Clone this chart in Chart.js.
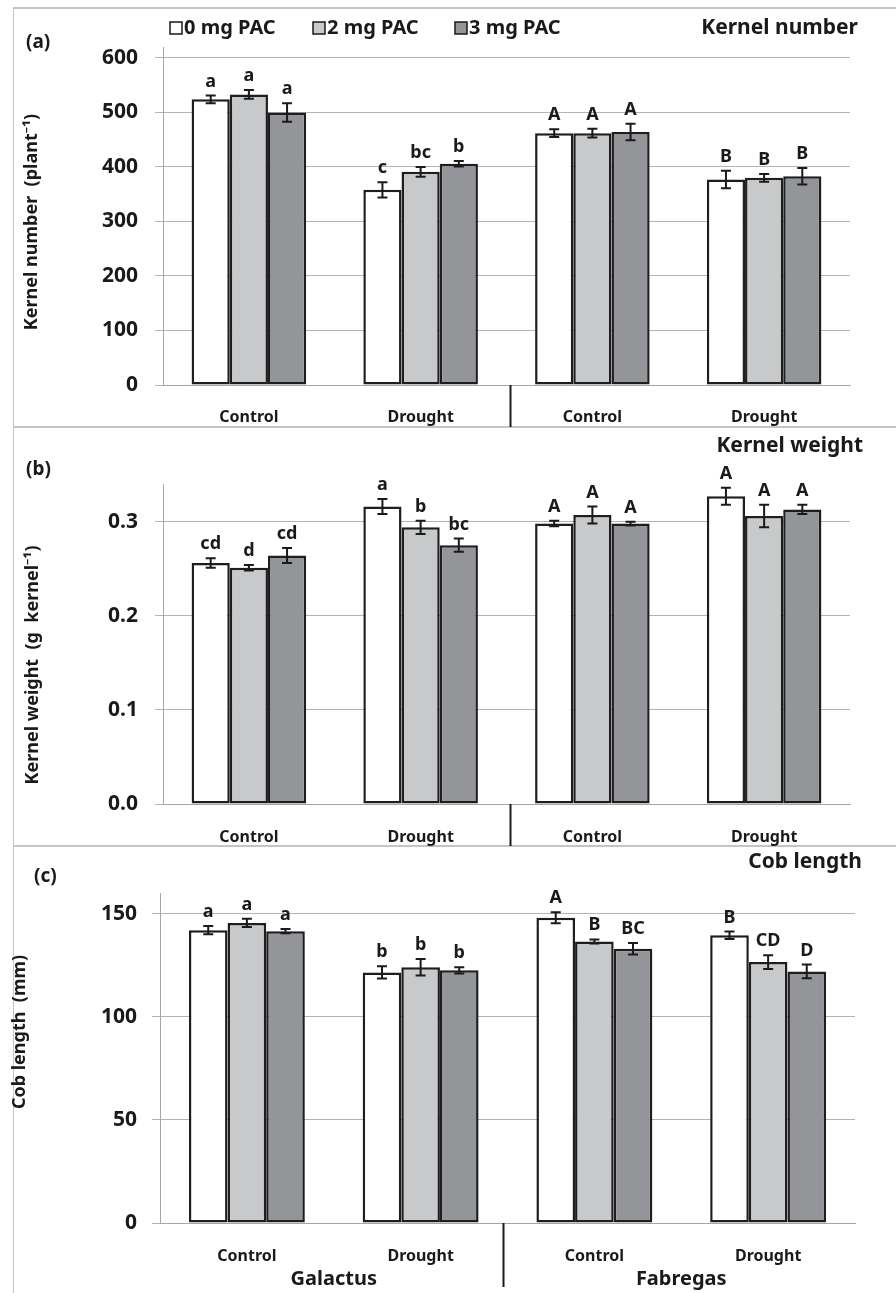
<!DOCTYPE html>
<html><head><meta charset="utf-8">
<script src="https://cdn.jsdelivr.net/npm/chart.js@4.4.1/dist/chart.umd.min.js"></script>
<style>
html,body{margin:0;padding:0;background:#fff;}
#wrap{position:relative;width:896px;height:1293px;overflow:hidden;background:#fff;}
canvas{position:absolute;left:0;}
.ln{position:absolute;background:#c4c4c4;}
</style></head><body>
<div id="wrap">
<div class="ln" style="left:13px;top:7px;width:883px;height:2px"></div>
<div class="ln" style="left:13px;top:426px;width:883px;height:2px"></div>
<div class="ln" style="left:13px;top:845px;width:883px;height:2px"></div>
<div class="ln" style="left:13px;top:7px;width:1px;height:1286px"></div>
<canvas id="ca" width="896" height="420" style="top:7px"></canvas>
<canvas id="cb" width="896" height="419" style="top:427px"></canvas>
<canvas id="cc" width="896" height="447" style="top:846px"></canvas>
</div>
<script>
// ---- data ----
const categories = ['Control', 'Drought', 'Control', 'Drought'];
const cultivars = ['Galactus', 'Fabregas'];
const seriesNames = ['0 mg PAC', '2 mg PAC', '3 mg PAC'];

// (a) Kernel number (plant-1)
const kernelNumber0 = [524, 358, 462, 377];
const kernelNumber2 = [533, 391, 462, 380];
const kernelNumber3 = [500, 406, 464, 383];
const kernelNumberErr0 = [7, 14, 7, 16];
const kernelNumberErr2 = [8, 9, 8, 7];
const kernelNumberErr3 = [17, 5, 15, 15];
const kernelNumberLetters0 = ['a', 'c', 'A', 'B'];
const kernelNumberLetters2 = ['a', 'bc', 'A', 'B'];
const kernelNumberLetters3 = ['a', 'b', 'A', 'B'];
const kernelNumberTicks = [0, 100, 200, 300, 400, 500, 600];

// (b) Kernel weight (g kernel-1)
const kernelWeight0 = [0.256, 0.316, 0.298, 0.327];
const kernelWeight2 = [0.251, 0.294, 0.307, 0.306];
const kernelWeight3 = [0.264, 0.275, 0.298, 0.313];
const kernelWeightErr0 = [0.005, 0.008, 0.003, 0.009];
const kernelWeightErr2 = [0.003, 0.007, 0.009, 0.012];
const kernelWeightErr3 = [0.008, 0.007, 0.002, 0.005];
const kernelWeightLetters0 = ['cd', 'a', 'A', 'A'];
const kernelWeightLetters2 = ['d', 'b', 'A', 'A'];
const kernelWeightLetters3 = ['cd', 'bc', 'A', 'A'];
const kernelWeightTicks = [0.0, 0.1, 0.2, 0.3];

// (c) Cob length (mm)
const cobLength0 = [142, 121.5, 148, 139.5];
const cobLength2 = [145.5, 124, 136.5, 126.5];
const cobLength3 = [141.5, 122.5, 133, 122];
const cobLengthErr0 = [2, 3, 2.7, 1.8];
const cobLengthErr2 = [2, 4, 1, 3.3];
const cobLengthErr3 = [1, 1.5, 2.8, 3.3];
const cobLengthLetters0 = ['a', 'b', 'A', 'B'];
const cobLengthLetters2 = ['a', 'b', 'B', 'CD'];
const cobLengthLetters3 = ['a', 'b', 'BC', 'D'];
const cobLengthTicks = [0, 50, 100, 150];

// ---- styling ----
const FONT = "'Noto Sans', 'DejaVu Sans', sans-serif";
const fills = ['#ffffff', '#c8c9cb', '#939598'];
const INK = '#1a1a1a';

function makePanel(id, p) {
  const decor = {
    id: 'decor_' + id,
    afterDatasetsDraw(chart) {
      const ctx = chart.ctx, ys = chart.scales.y;
      ctx.save();
      chart.data.datasets.forEach((ds, i) => {
        const meta = chart.getDatasetMeta(i);
        meta.data.forEach((el, j) => {
          const v = ds.data[j], e = ds.errors[j];
          const yt = ys.getPixelForValue(v + e), yb = ys.getPixelForValue(v - e);
          ctx.strokeStyle = INK; ctx.lineWidth = 2;
          ctx.beginPath();
          ctx.moveTo(el.x, yt); ctx.lineTo(el.x, yb);
          ctx.moveTo(el.x - 5, yt); ctx.lineTo(el.x + 5, yt);
          ctx.moveTo(el.x - 5, yb); ctx.lineTo(el.x + 5, yb);
          ctx.stroke();
          ctx.fillStyle = INK;
          ctx.font = 'bold 18px ' + FONT;
          ctx.textAlign = 'center'; ctx.textBaseline = 'alphabetic';
          ctx.fillText(ds.letters[j], el.x, yt - 9);
        });
      });
      ctx.restore();
    },
    afterDraw(chart) {
      const ctx = chart.ctx, xs = chart.scales.x, ca = chart.chartArea;
      ctx.save();
      // separator between cultivars
      const sx = (xs.getPixelForValue(1) + xs.getPixelForValue(2)) / 2 + p.sepOffset;
      ctx.strokeStyle = INK; ctx.lineWidth = 2;
      ctx.beginPath(); ctx.moveTo(sx, ca.bottom); ctx.lineTo(sx, p.sepEnd); ctx.stroke();
      ctx.fillStyle = INK;
      // panel tag
      ctx.font = 'bold 19px ' + FONT; ctx.textAlign = 'left'; ctx.textBaseline = 'middle';
      ctx.fillText(p.tag, p.tagX, p.tagY);
      // panel title
      ctx.font = 'bold 21px ' + FONT; ctx.textAlign = 'right';
      ctx.fillText(p.title, p.titleX, p.titleY);
      // y title
      ctx.save();
      ctx.translate(p.yTitleX, p.yTitleY); ctx.rotate(-Math.PI / 2);
      ctx.font = 'bold 18px ' + FONT; ctx.textAlign = 'center'; ctx.textBaseline = 'middle';
      ctx.fillText(p.yTitle, 0, 0);
      ctx.restore();
      // legend
      if (p.legend) {
        ctx.font = 'bold 20px ' + FONT; ctx.textAlign = 'left'; ctx.textBaseline = 'middle';
        p.legend.forEach((lx, i) => {
          ctx.fillStyle = fills[i];
          ctx.fillRect(lx, p.legendY - 6, 12, 12);
          ctx.strokeStyle = INK; ctx.lineWidth = 1.5;
          ctx.strokeRect(lx, p.legendY - 6, 12, 12);
          ctx.fillStyle = INK;
          ctx.fillText(seriesNames[i], lx + 14, p.legendY);
        });
      }
      // cultivar labels
      if (p.groups) {
        ctx.font = 'bold 20px ' + FONT; ctx.textAlign = 'center'; ctx.textBaseline = 'middle';
        cultivars.forEach((c, g) => {
          const gx = (xs.getPixelForValue(2 * g) + xs.getPixelForValue(2 * g + 1)) / 2;
          ctx.fillText(c, gx, p.groupY);
        });
      }
      ctx.restore();
    }
  };
  const ticksWanted = p.ticks;
  return new Chart(document.getElementById(id), {
    type: 'bar',
    data: {
      labels: categories,
      datasets: seriesNames.map((n, i) => ({
        label: n, data: p.values[i], errors: p.errors[i], letters: p.letters[i],
        backgroundColor: fills[i], borderColor: '#1e1e1e', borderWidth: 2.5,
        borderSkipped: false, categoryPercentage: 0.667, barPercentage: 1.0
      }))
    },
    options: {
      responsive: false, animation: false, events: [],
      layout: { padding: { top: p.top, right: 896 - p.right, left: 0, bottom: 0 } },
      plugins: { legend: { display: false }, tooltip: { enabled: false } },
      scales: {
        x: {
          grid: { display: false },
          border: { display: true, color: '#a6a6a6', width: 1 },
          ticks: { font: { family: FONT, size: 16, weight: 'bold' }, color: INK, padding: p.xPad, maxRotation: 0, autoSkip: false },
          afterFit(s) { s.height = p.height - p.bottom; }
        },
        y: {
          min: 0, max: p.yMax,
          grid: { color: '#b4b4b4', lineWidth: 1, tickLength: 8, drawTicks: true },
          border: { display: true, color: '#a6a6a6', width: 1 },
          ticks: {
            stepSize: p.step, includeBounds: false,
            font: { family: FONT, size: 21, weight: 'bold' }, color: INK, padding: p.tickPad,
            callback: v => v.toFixed(p.dec)
          },
          afterBuildTicks(s) {
            s.ticks = ticksWanted.map(v => ({ value: v }));
          },
          afterFit(s) { s.width = p.left; }
        }
      }
    },
    plugins: [decor]
  });
}

makePanel('ca', {
  values: [kernelNumber0, kernelNumber2, kernelNumber3],
  errors: [kernelNumberErr0, kernelNumberErr2, kernelNumberErr3],
  letters: [kernelNumberLetters0, kernelNumberLetters2, kernelNumberLetters3],
  ticks: kernelNumberTicks, yMax: 620, step: 100, dec: 0,
  top: 40, bottom: 378, left: 163, right: 850, height: 420,
  tickPad: 17, xPad: 15, sepOffset: 4, sepEnd: 420,
  tag: '(a)', tagX: 26, tagY: 36,
  title: 'Kernel number', titleX: 858, titleY: 21,
  yTitle: 'Kernel number  (plant\u207B\u00B9)', yTitleX: 32, yTitleY: 215,
  legend: [170, 313, 455], legendY: 21
});
makePanel('cb', {
  values: [kernelWeight0, kernelWeight2, kernelWeight3],
  errors: [kernelWeightErr0, kernelWeightErr2, kernelWeightErr3],
  letters: [kernelWeightLetters0, kernelWeightLetters2, kernelWeightLetters3],
  ticks: kernelWeightTicks, yMax: 0.34, step: 0.1, dec: 1,
  top: 57, bottom: 377, left: 163, right: 850, height: 419,
  tickPad: 17, xPad: 16, sepOffset: 4, sepEnd: 419,
  tag: '(b)', tagX: 26, tagY: 43,
  title: 'Kernel weight', titleX: 863, titleY: 19,
  yTitle: 'Kernel weight  (g  kernel\u207B\u00B9)', yTitleX: 33, yTitleY: 238
});
makePanel('cc', {
  values: [cobLength0, cobLength2, cobLength3],
  errors: [cobLengthErr0, cobLengthErr2, cobLengthErr3],
  letters: [cobLengthLetters0, cobLengthLetters2, cobLengthLetters3],
  ticks: cobLengthTicks, yMax: 160, step: 50, dec: 0,
  top: 47, bottom: 377, left: 160, right: 855, height: 447,
  tickPad: 15, xPad: 16, sepOffset: -4, sepEnd: 441,
  tag: '(c)', tagX: 34, tagY: 31,
  title: 'Cob length', titleX: 862, titleY: 16,
  yTitle: 'Cob length  (mm)', yTitleX: 20, yTitleY: 186,
  groups: true, groupY: 433
});
</script>
</body></html>
